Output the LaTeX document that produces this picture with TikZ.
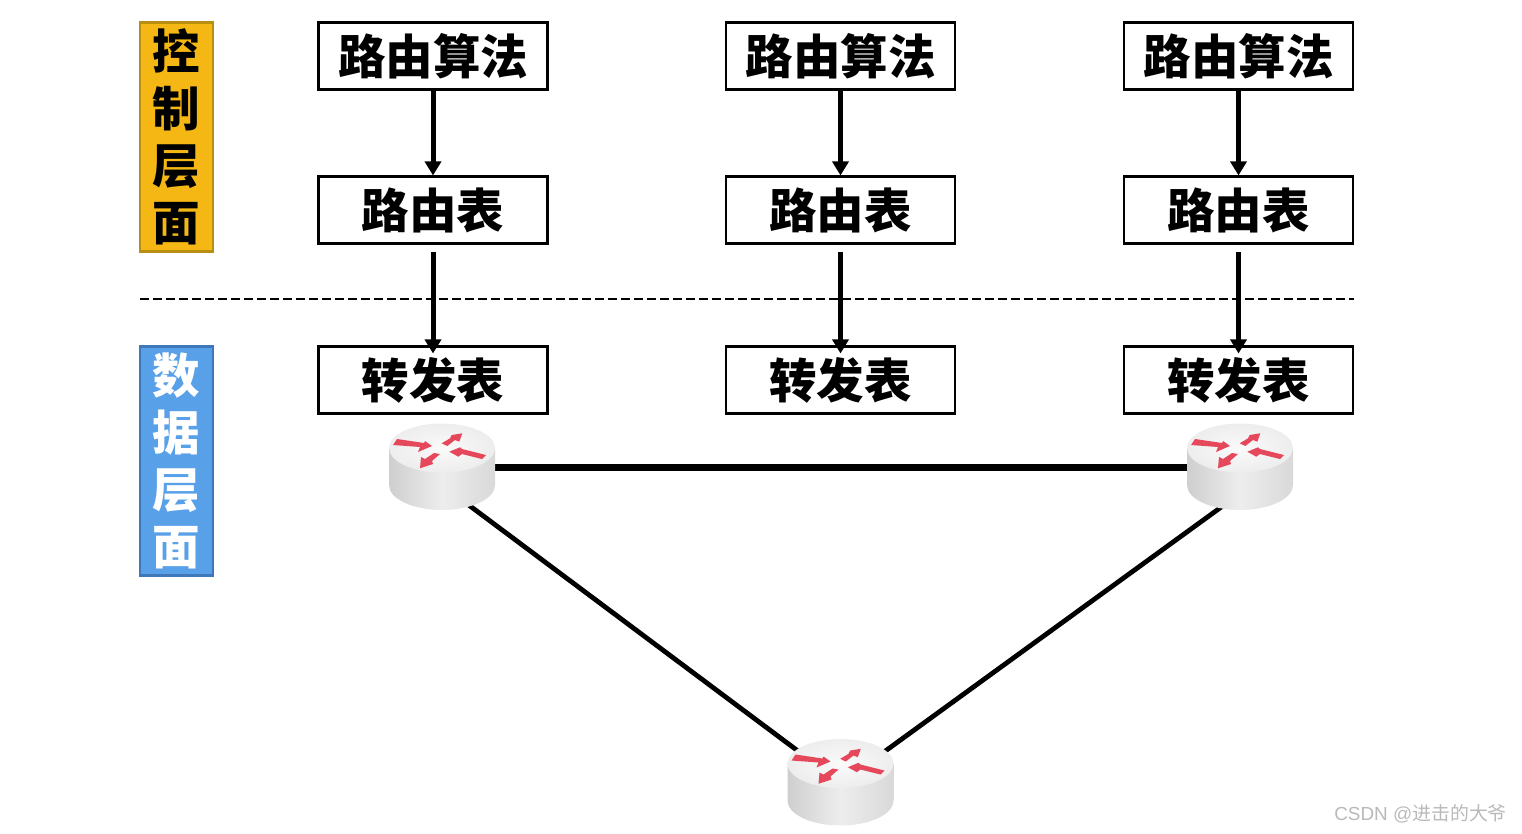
\documentclass[tikz,border=0pt]{standalone}
\usepackage{fontspec}
\setmainfont{Liberation Sans}
\newfontfamily\cjk{Noto Sans CJK SC}[BoldFont={Noto Sans CJK SC Black}]
\usetikzlibrary{arrows.meta,positioning}
\definecolor{ambfill}{HTML}{F5B714}
\definecolor{ambline}{HTML}{B98F12}
\definecolor{bluefill}{HTML}{58A0E8}
\definecolor{blueline}{HTML}{3F78B8}
\definecolor{redarrow}{HTML}{E5485A}
\tikzset{
  boxnode/.style={draw=black,line width=2.1pt,fill=white,minimum width=229pt,minimum height=67pt,inner sep=0pt,
    font=\cjk\bfseries\fontsize{47.5}{47.5}\selectfont},
  sidenode/.style={line width=2.4pt,minimum width=73pt,minimum height=229pt,inner sep=0pt,align=center,
    font=\cjk\bfseries\fontsize{47.5}{57}\selectfont},
  flow/.style={line width=5pt,-{Triangle[length=14pt,width=16pt]}},
  link/.style={line width=4.8pt,black},
  trunk/.style={line width=7pt,black},
  redarr/.style={draw=none,fill=redarrow},
  routerbase/.style={minimum width=106pt,minimum height=86pt,inner sep=0pt},
  pics/routerbody/.style={code={
    \shade[left color=gray!38!white,right color=gray!30!white,middle color=gray!14!white]
      (-53,-19) -- (-53,18) arc[start angle=180,end angle=0,x radius=53,y radius=25] -- (53,-19) -- cycle;
    \shade[inner color=white!96!gray,outer color=gray!14!white]
      (0,-19) ellipse[x radius=53,y radius=24.5];
    \begin{scope}[shift={(0,-19)}]
    \fill[redarr] (-45,-9) -- (-18,-5) -- (-17,-7) -- (-10,-2) -- (-24,4) -- (-22,-1) -- (-49,-3) -- cycle;
    \fill[redarr] (-0.3,-4.7) -- (8,-9.7) -- (9.7,-13) -- (20.3,-14.7) -- (17.3,-6.3) -- (13,-8) -- (5.3,-2) -- cycle;
    \fill[redarr] (7.3,3.7) -- (18,-0.7) -- (20,1) -- (44,7) -- (40,11) -- (20,6) -- (16.3,8.7) -- cycle;
    \fill[redarr] (-22,20.3) -- (-21,9) -- (-17,11) -- (-8,5) -- (-2,6) -- (-10,13) -- (-9,16) -- cycle;
    \end{scope}
  }}
}
\begin{document}
\begin{tikzpicture}[x=1pt,y=-1pt]
\useasboundingbox (0,0) rectangle (1522,833);

% side labels
\node[sidenode,draw=ambline,fill=ambfill] (ctrl) at (176.5,137) {控\\制\\层\\面};
\node[sidenode,draw=blueline,fill=bluefill] (data) at (176.5,461) {\textcolor{white}{数}\\\textcolor{white}{据}\\\textcolor{white}{层}\\\textcolor{white}{面}};

% boxes
\node[boxnode] (algA) at (433,56) {路由算法};
\node[boxnode] (algB) at (840.5,56) {路由算法};
\node[boxnode] (algC) at (1238.5,56) {路由算法};
\node[boxnode] (tabA) at (433,210) {路由表};
\node[boxnode] (tabB) at (840.5,210) {路由表};
\node[boxnode] (tabC) at (1238.5,210) {路由表};
\node[boxnode] (fwdA) at (433,380) {转发表};
\node[boxnode] (fwdB) at (840.5,380) {转发表};
\node[boxnode] (fwdC) at (1238.5,380) {转发表};

% separator
\coordinate (sepL) at (140,299);
\coordinate (sepR) at (1354,299);
\draw[line width=2.8pt,dash pattern=on 8.5pt off 4.5pt] (sepL) -- (sepR);

% arrows
\foreach \c in {A,B,C}{
  \draw[flow] (alg\c) -- (tab\c);
  \draw[flow,shorten <=7pt,shorten >=-8pt] (tab\c.south) -- (fwd\c.north);
}

% routers
\node[routerbase] (rA) at (442,467) {};
\node[routerbase] (rB) at (1240,467) {};
\node[routerbase] (rC) at (840.5,782.5) {};
\coordinate (rAs) at (460,498.5);
\coordinate (rCa) at (808,758.5);
\coordinate (rBs) at (1233,498.5);
\coordinate (rCb) at (875,758.5);
\draw[trunk] (rA) -- (rB);
\draw[link] (rAs) -- (rCa);
\draw[link] (rBs) -- (rCb);
\pic at (rA) {routerbody};
\pic at (rB) {routerbody};
\pic at (rC) {routerbody};

% watermark
\node[anchor=east,inner sep=0pt,text=gray!55!white,font=\fontsize{18.9}{20}\selectfont] (mark) at (1507,814) {CSDN @{\cjk 进击的大爷}};
\end{tikzpicture}
\end{document}
